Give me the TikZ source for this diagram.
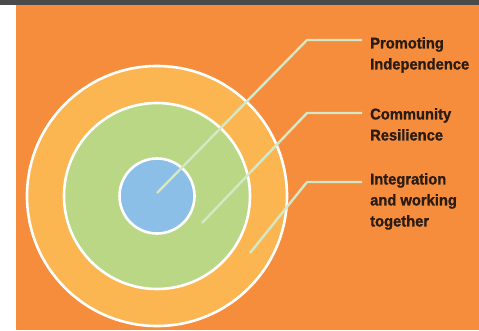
\documentclass[tikz,border=0pt]{standalone}
\usepackage{fontspec}
\newfontfamily\lblfont[FakeStretch=0.95,FakeBold=1.2]{Liberation Sans}
\definecolor{bgorange}{HTML}{F68D3D}
\definecolor{ringorange}{HTML}{FCB651}
\definecolor{ringgreen}{HTML}{BAD786}
\definecolor{coreblue}{HTML}{8CBFE7}
\definecolor{leader}{HTML}{D2E8C6}
\definecolor{topbar}{HTML}{4B4B4B}
\definecolor{lbltext}{HTML}{2A1C12}
\tikzset{
  ring/.style={circle, draw=white, line width=2.6pt, inner sep=0pt},
  leaderline/.style={draw=leader, line width=2.4pt},
  lbl/.style={anchor=north west, inner sep=0pt, align=left, text=lbltext,
    font=\lblfont\bfseries\fontsize{15.5}{21}\selectfont}
}
\begin{document}
\begin{tikzpicture}[x=1pt,y=-1pt]
\useasboundingbox (0,0) rectangle (479,330);
\fill[white] (0,0) rectangle (479,330);
\fill[topbar] (0,0) rectangle (479,5);
\fill[bgorange] (16,5) rectangle (479,330);
\node[ring, fill=ringorange, minimum size=260pt] (outer) at (157,196) {};
\node[ring, fill=ringgreen, minimum size=186pt] (middle) at (157,196) {};
\node[ring, fill=coreblue, minimum size=75pt] (core) at (157,196) {};
\coordinate (s1) at (157,193);
\coordinate (k1) at (307,40);
\coordinate (e1) at (362,40);
\coordinate (s2) at (202,223);
\coordinate (k2) at (307,113);
\coordinate (e2) at (362,113);
\coordinate (s3) at (250,253);
\coordinate (k3) at (307,182);
\coordinate (e3) at (362,182);
\draw[leaderline] (s1) -- (k1) -- (e1);
\draw[leaderline] (s2) -- (k2) -- (e2);
\draw[leaderline] (s3) -- (k3) -- (e3);
\node[lbl] (t1) at (370,37) {Promoting\\Independence};
\node[lbl] (t2) at (370,108) {Community\\Resilience};
\node[lbl] (t3) at (370,173) {Integration\\and working\\together};
\end{tikzpicture}
\end{document}
